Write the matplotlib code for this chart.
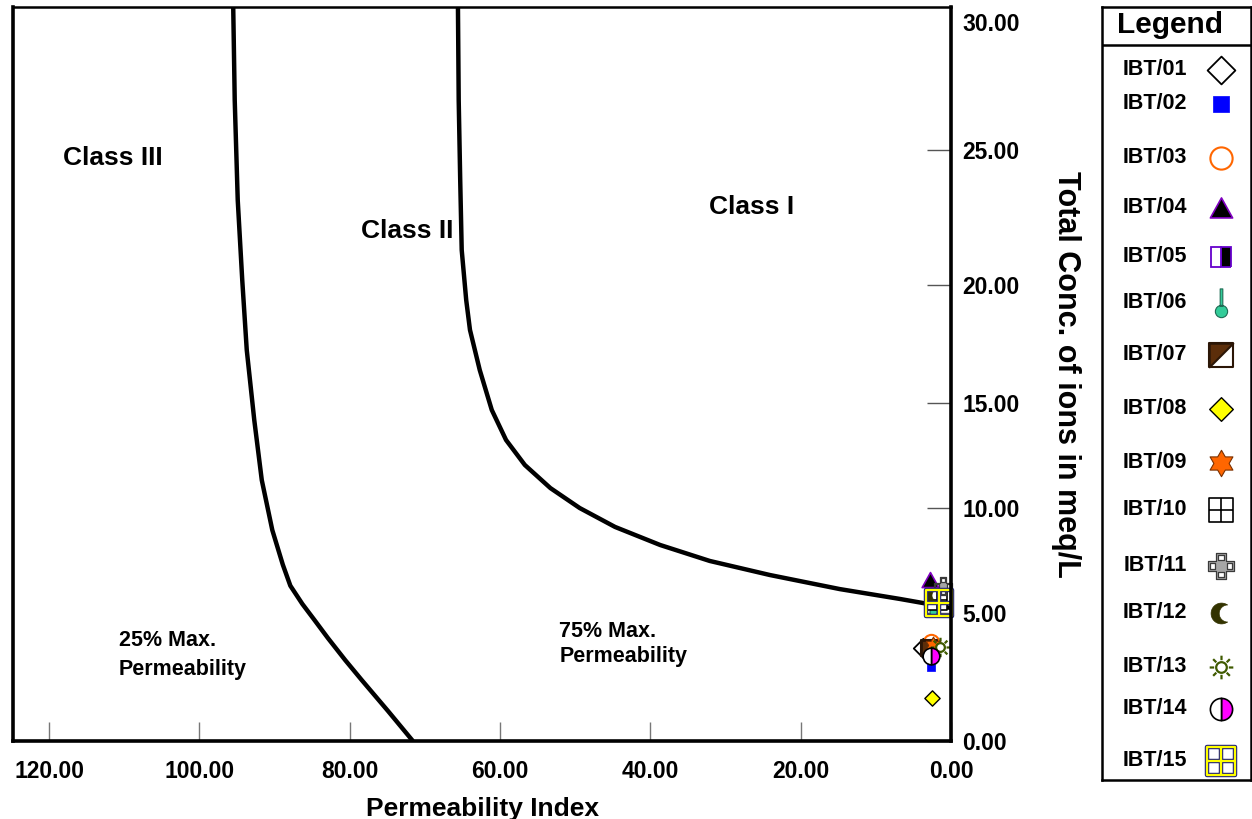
import numpy as np
import matplotlib
matplotlib.use("Agg")
import matplotlib.pyplot as plt
from matplotlib.path import Path

plt.rcParams["font.family"] = ["Liberation Sans", "DejaVu Sans"]
plt.rcParams["font.weight"] = "bold"

# class boundaries of the Doneen diagram
class1_x = [65.6, 65.5, 65.3, 65.1, 64.5, 64.0, 62.7, 61.1, 59.2, 56.7, 53.3, 49.4, 44.7, 38.7, 32.1, 24.1, 14.8, 6.8, 0.0]
class1_y = [30.6, 26.95, 23.9, 21.3, 19.36, 18.1, 16.4, 14.67, 13.24, 12.05, 10.95, 10.0, 9.1, 8.24, 7.48, 6.81, 6.14, 5.67, 5.24]
class2_x = [95.5, 95.3, 94.9, 94.3, 93.7, 92.7, 91.7, 90.3, 88.9, 87.9, 86.3, 84.7, 82.9, 80.6, 78.4, 74.9, 71.6]
class2_y = [30.6, 26.95, 23.15, 20.19, 17.25, 14.19, 11.33, 8.95, 7.3, 6.3, 5.43, 4.73, 4.02, 3.16, 2.38, 1.17, 0.0]

samples = ["IBT/01", "IBT/02", "IBT/03", "IBT/04", "IBT/05", "IBT/06", "IBT/07", "IBT/08",
           "IBT/09", "IBT/10", "IBT/11", "IBT/12", "IBT/13", "IBT/14", "IBT/15"]
perm_index = [3.7, 2.6, 2.7, 2.8, 2.0, 2.4, 2.9, 2.5, 2.4, 1.9, 1.1, 2.4, 1.5, 2.6, 1.6]
total_conc = [3.63, 2.89, 3.87, 6.57, 5.62, 5.3, 3.63, 1.68, 3.75, 5.62, 6.3, 5.85, 3.67, 3.32, 5.48]

x_ticks = [120, 100, 80, 60, 40, 20, 0]
y_ticks = [0, 5, 10, 15, 20, 25, 30]
# the printed y axis is not evenly spaced; screen height of each y tick
y_tick_height = [0, 128, 233, 338, 456, 591, 719]

# ---- marker shapes ----
M, L, C = Path.MOVETO, Path.LINETO, Path.CLOSEPOLY


def poly(pts):
    return Path(list(pts) + [pts[0]], [M] + [L] * (len(pts) - 1) + [C])


SQUARE = poly([(-1, -1), (1, -1), (1, 1), (-1, 1)])
DIAMOND = poly([(0, 1), (1, 0), (0, -1), (-1, 0)])
TRIANGLE = poly([(-1, -0.85), (1, -0.85), (0, 0.95)])
HALF_TRI = poly([(-1, -1), (1, 1), (-1, 1)])
GRID = Path([(-1, -1), (1, -1), (1, 1), (-1, 1), (-1, -1), (0, -1), (0, 1), (-1, 0), (1, 0)],
            [M, L, L, L, C, M, L, M, L])

ang = np.deg2rad(90 + 30 * np.arange(12))
rad = np.tile([1.0, 0.577], 6)
STAR6 = poly(list(zip(rad * np.cos(ang), rad * np.sin(ang))))

w = 0.38
plus = poly([(-w, 1), (w, 1), (w, w), (1, w), (1, -w), (w, -w), (w, -1), (-w, -1),
             (-w, -w), (-1, -w), (-1, w), (-w, w)])
holes = []
s = 0.2
for cx, cy in [(0, 0.66), (0, -0.66), (0.66, 0), (-0.66, 0)]:
    holes.append(poly([(cx - s, cy - s), (cx + s, cy - s), (cx + s, cy + s), (cx - s, cy + s)]))
CROSS = Path.make_compound_path(plus, *holes)

t_out = np.deg2rad(np.linspace(55, 305, 40))
t_in = np.deg2rad(np.linspace(268.2, 91.8, 40))
cres = list(zip(np.cos(t_out), np.sin(t_out))) + list(zip(0.6 + 0.82 * np.cos(t_in), 0.82 * np.sin(t_in)))
CRESCENT = poly(cres)

sun_parts = [Path.circle((0, 0), 0.45)]
for a in np.deg2rad(np.arange(0, 360, 45)):
    sun_parts.append(Path([(0.62 * np.cos(a), 0.62 * np.sin(a)), (np.cos(a), np.sin(a))], [M, L]))
SUN = Path.make_compound_path(*sun_parts)

THERMO = Path.make_compound_path(Path.circle((0, -0.55), 0.42),
                                 poly([(-0.09, -0.2), (0.09, -0.2), (0.09, 1), (-0.09, 1)]))

# one list of drawing layers per sample
styles = [
    [dict(marker=DIAMOND, mfc="white", mec="black", mew=1.3)],
    [dict(marker=SQUARE, mfc="#0000ff", mec="#0000ff", mew=0.5)],
    [dict(marker="o", mfc="white", mec="#ff6600", mew=1.5)],
    [dict(marker=TRIANGLE, mfc="black", mec="#8000c0", mew=1.2)],
    [dict(marker="s", fillstyle="right", mfc="black", mfcalt="white", mec="#6600cc", mew=1.3)],
    [dict(marker=THERMO, mfc="#33cc99", mec="#1d6b53", mew=0.8)],
    [dict(marker=SQUARE, mfc="white", mec="#2b1606", mew=1.5),
     dict(marker=HALF_TRI, mfc="#5c2e0a", mec="#2b1606", mew=1.5)],
    [dict(marker=DIAMOND, mfc="#ffff00", mec="black", mew=1.0)],
    [dict(marker=STAR6, mfc="#ff6600", mec="#7a3000", mew=0.8)],
    [dict(marker=GRID, mfc="white", mec="black", mew=1.2)],
    [dict(marker=CROSS, mfc="#a6a6a6", mec="#3a3a3a", mew=0.9)],
    [dict(marker=CRESCENT, mfc="#333300", mec="#333300", mew=0.5)],
    [dict(marker=SUN, mfc="white", mec="#3f5a00", mew=1.6)],
    [dict(marker="o", fillstyle="right", mfc="#ff00ff", mfcalt="white", mec="black", mew=1.2)],
    [dict(marker=GRID, mfc="none", mec="#23237a", mew=3.2),
     dict(marker=GRID, mfc="none", mec="#ffff00", mew=1.6)],
]
plot_ms = [14, 6, 11, 12, 11, 12, 11, 11, 12, 15, 13, 10, 14, 12, 19]
legend_ms = [20, 12, 16, 16, 14, 21, 17, 17, 19, 17, 19, 15, 17, 16, 20]


def draw_marker(ax, x, y, layers, ms):
    for lay in layers:
        kw = dict(lay)
        if "mfcalt" in kw:
            kw["markerfacecoloralt"] = kw.pop("mfcalt")
        ax.plot([x], [y], linestyle="none", ms=ms, clip_on=False, **kw)


vals_ext = [-5] + y_ticks + [35]
h_ext = [-128] + y_tick_height + [719 + 128]


def y_fwd(v):
    return np.interp(v, vals_ext, h_ext)


def y_inv(h):
    return np.interp(h, h_ext, vals_ext)


fig = plt.figure(figsize=(12.52, 8.19), dpi=100)
ax = fig.add_axes([13 / 1252, 1 - 741 / 819, 938 / 1252, 734 / 819])
ax.set_yscale("function", functions=(y_fwd, y_inv))

ax.plot(class1_x, class1_y, color="black", lw=3.2, solid_joinstyle="round", solid_capstyle="butt")
ax.plot(class2_x, class2_y, color="black", lw=3.2, solid_joinstyle="round", solid_capstyle="butt")

for i in range(len(samples)):
    draw_marker(ax, perm_index[i], total_conc[i], styles[i], plot_ms[i])

ax.set_xlim(124.8, 0)
ax.set_ylim(0, 30.59)
ax.set_xticks(x_ticks)
ax.set_xticklabels(["%.2f" % v for v in x_ticks])
ax.set_yticks(y_ticks)
ax.set_yticklabels(["%.2f" % v for v in y_ticks])
ax.minorticks_off()
ax.yaxis.tick_right()
ax.yaxis.set_label_position("right")
ax.tick_params(axis="x", direction="in", length=14, width=1, color="#777777", pad=14, labelsize=16.5)
ax.tick_params(axis="y", direction="in", length=17, width=1, color="#555555", pad=8, labelsize=16.5)
ax.yaxis.get_major_ticks()[-1].tick2line.set_visible(False)
for lab in ax.get_xticklabels() + ax.get_yticklabels():
    lab.set_fontweight("bold")
for side in ["left", "bottom", "right"]:
    ax.spines[side].set_linewidth(2.6)
ax.spines["top"].set_linewidth(1.8)

ax.set_xlabel("Permeability Index", fontsize=19, fontweight="bold", labelpad=10)
ax.set_ylabel("Total Conc. of ions in meq/L", fontsize=22, fontweight="bold", rotation=270, labelpad=44)

ax.text(111.5, 24.7, "Class III", fontsize=19, ha="center", va="center")
ax.text(72.4, 22.0, "Class II", fontsize=19, ha="center", va="center")
ax.text(26.5, 22.89, "Class I", fontsize=19, ha="center", va="center")
ax.text(110.7, 3.36, "25% Max.\nPermeability", fontsize=15.5, ha="left", va="center", linespacing=1.45)
ax.text(52.1, 3.79, "75% Max.\nPermeability", fontsize=15.5, ha="left", va="center", linespacing=1.3)

# legend box drawn as its own axes, in pixel units
lg = fig.add_axes([1102 / 1252, 1 - 780 / 819, 149 / 1252, 773 / 819])
lg.set_xlim(1102, 1251)
lg.set_ylim(780, 7)
lg.set_xticks([])
lg.set_yticks([])
for sp in lg.spines.values():
    sp.set_linewidth(1.8)
lg.axhline(45, color="black", lw=1.8)
lg.text(1170, 25, "Legend", fontsize=21.5, ha="center", va="center")

row_y = [70, 104, 158, 208, 257, 303, 355, 409, 463, 510, 566, 613, 667, 709, 761]
for i, name in enumerate(samples):
    lg.text(1155, row_y[i], name, fontsize=15.5, ha="center", va="center")
    draw_marker(lg, 1221, row_y[i], styles[i], legend_ms[i])

fig.savefig("out.png", dpi=100)
